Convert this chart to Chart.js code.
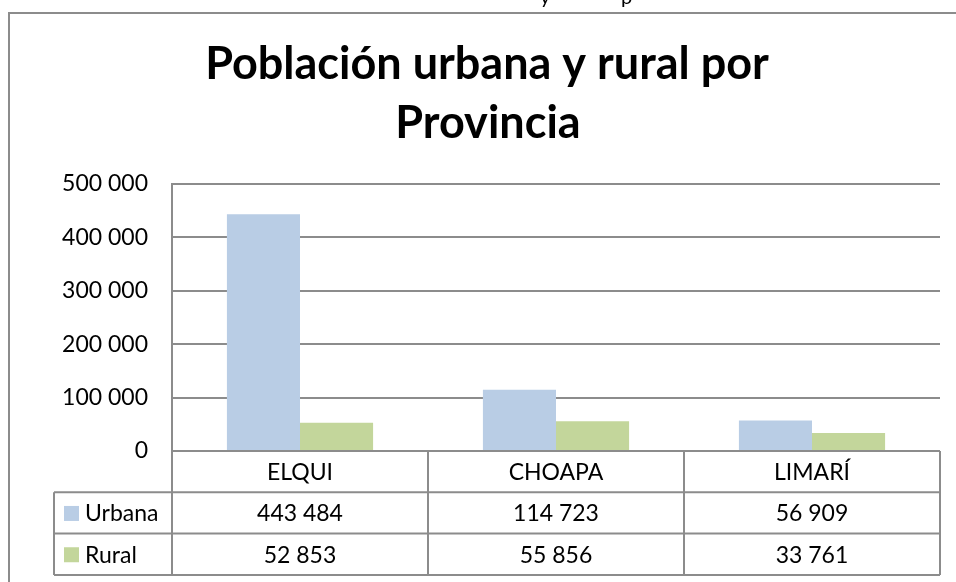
<!DOCTYPE html>
<html>
<head>
<meta charset="utf-8">
<script src="https://cdn.jsdelivr.net/npm/chart.js@4"></script>
<style>
html,body{margin:0;padding:0;background:#fff;}
#wrap{width:956px;height:582px;position:relative;}
</style>
</head>
<body>
<div id="wrap"><canvas id="popChart" width="956" height="582"></canvas></div>
<script>
const categories=['ELQUI','CHOAPA','LIMARÍ'];
const urbana=[443484,114723,56909];
const rural=[52853,55856,33761];
const seriesNames=['Urbana','Rural'];
const yMin=0, yMax=500000, yStep=100000;
const titleLines=['Población urbana y rural por','Provincia'];

const blue='#b9cde5', green='#c3d69b', lineGray='#8c8c8c';
const FONT='Lato';

function fmt(n){return String(n).replace(/\B(?=(\d{3})+(?!\d))/g,' ');}

// frame, title and the data table underneath the plot
const decor={
  id:'decor',
  beforeDraw(chart){
    const c=chart.ctx;
    c.save();
    c.fillStyle='#fff';c.fillRect(0,0,chart.width,chart.height);
    // clipped text of the line above the chart
    c.fillStyle='#000';c.font='20px '+FONT;c.textBaseline='alphabetic';
    c.fillText('y',540,4);c.fillText('p',621,4);
    c.strokeStyle=lineGray;c.lineWidth=2;
    c.beginPath();c.moveTo(9,582);c.lineTo(9,13);c.lineTo(956,13);c.stroke();
    c.fillStyle='#000';c.textAlign='center';c.textBaseline='alphabetic';
    c.font='bold 45px '+FONT;
    c.fillText(titleLines[0],487,79);
    c.fillText(titleLines[1],488,138);
    c.restore();
  },
  afterDraw(chart){
    const c=chart.ctx, a=chart.chartArea, xs=chart.scales.x;
    const n=categories.length, colW=(a.right-a.left)/n;
    const rowH=41.3, top=a.bottom, legL=54;
    c.save();
    c.strokeStyle=lineGray;c.lineWidth=2;
    c.beginPath();
    for(let i=0;i<=n;i++){const x=a.left+i*colW;c.moveTo(x,top);c.lineTo(x,top+3*rowH);}
    for(let r=1;r<=3;r++){c.moveTo(legL,top+r*rowH);c.lineTo(a.right,top+r*rowH);}
    c.moveTo(legL,top+rowH);c.lineTo(legL,top+3*rowH);
    c.stroke();
    c.fillStyle='#000';c.font='23px '+FONT;c.textAlign='center';c.textBaseline='middle';
    const rows=[urbana,rural];
    categories.forEach((cat,i)=>{
      const cx=xs.getPixelForValue(i);
      c.fillText(cat,cx,top+rowH/2+1);
      rows.forEach((arr,r)=>c.fillText(fmt(arr[i]),cx,top+(r+1.5)*rowH+1));
    });
    c.textAlign='left';
    [blue,green].forEach((col,r)=>{
      const cy=top+(r+1.5)*rowH;
      c.fillStyle=col;c.fillRect(64,cy-7,15,15);
      c.fillStyle='#000';c.fillText(seriesNames[r],85,cy+1);
    });
    c.restore();
  }
};

new Chart(document.getElementById('popChart').getContext('2d'),{
  type:'bar',
  data:{
    labels:categories,
    datasets:[
      {label:seriesNames[0],data:urbana,backgroundColor:blue,categoryPercentage:0.571,barPercentage:1},
      {label:seriesNames[1],data:rural,backgroundColor:green,categoryPercentage:0.571,barPercentage:1}
    ]
  },
  options:{
    responsive:false,animation:false,
    layout:{padding:{left:48,right:16,top:184,bottom:131}},
    plugins:{legend:{display:false},title:{display:false},tooltip:{enabled:false}},
    scales:{
      x:{display:false},
      y:{
        min:yMin,max:yMax,
        ticks:{stepSize:yStep,padding:24,color:'#000',font:{family:FONT,size:23},callback:v=>fmt(v)},
        grid:{color:lineGray,lineWidth:2,drawTicks:false},
        border:{color:lineGray,width:2},
        afterFit(s){s.width=124;}
      }
    }
  },
  plugins:[decor]
});
</script>
</body>
</html>
